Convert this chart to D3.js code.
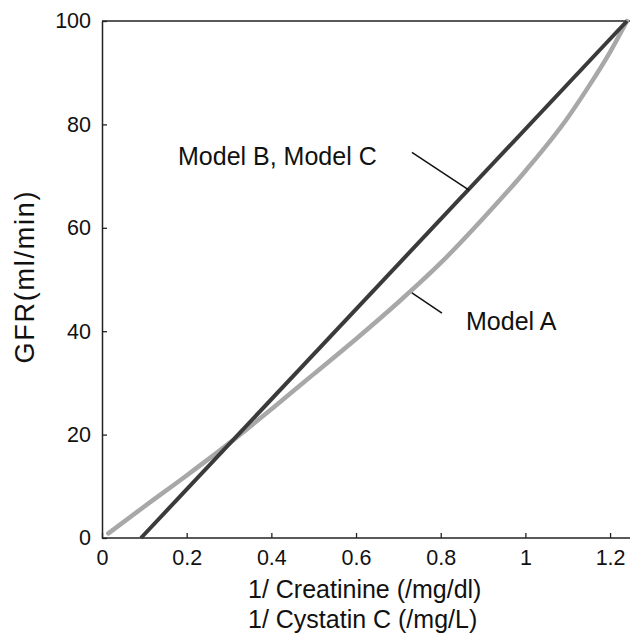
<!DOCTYPE html>
<html><head><meta charset="utf-8">
<script src="https://cdn.jsdelivr.net/npm/d3@7"></script>
<style>body{margin:0;background:#fff}svg{display:block}text{font-family:"Liberation Sans",Arial,sans-serif;fill:#111}</style>
</head><body>
<svg id="c" width="630" height="634"></svg>
<script>
const xTicks = [0, 0.2, 0.4, 0.6, 0.8, 1, 1.2];
const yTicks = [0, 20, 40, 60, 80, 100];
const modelBC_x = [0.092, 1.24];
const modelBC_y = [0, 100];
const modelA_x = [0.015, 0.1, 0.2, 0.3, 0.4, 0.5, 0.6, 0.7, 0.8, 0.9, 1.0, 1.1, 1.15, 1.2, 1.24];
const modelA_y = [0.9, 6.1, 12.1, 18.3, 24.9, 31.7, 38.5, 45.6, 53.2, 61.8, 71.0, 81.3, 87.4, 94.0, 100];
const labelBC = "Model B, Model C";
const labelA = "Model A";
const xLabel1 = "1/ Creatinine (/mg/dl)";
const xLabel2 = "1/ Cystatin C (/mg/L)";
const yLabel = "GFR(ml/min)";

const svg = d3.select("#c");
const L = 102, R = 627, T = 21, B = 538;
const x = d3.scaleLinear().domain([0, 1.24]).range([L, R]);
const y = d3.scaleLinear().domain([0, 100]).range([B, T]);
const FF = '"Liberation Sans",Arial,sans-serif';

// x axis
const gx = svg.append("g").attr("transform", `translate(0,${B})`)
  .call(d3.axisBottom(x).tickValues(xTicks).tickFormat(d3.format("")).tickSizeInner(-5).tickSizeOuter(0).tickPadding(12));
gx.select(".domain").attr("stroke", "#222").attr("stroke-width", 1.5).attr("d", `M${L},0H630`);
gx.selectAll(".tick line").attr("stroke", "#222").attr("stroke-width", 1.3);
gx.selectAll(".tick text").attr("font-size", 21.5).attr("dy", "0.72em").style("font-family", FF).attr("fill", "#111");

// y axis
const gy = svg.append("g").attr("transform", `translate(${L},0)`)
  .call(d3.axisLeft(y).tickValues(yTicks).tickFormat(d3.format("")).tickSizeInner(-5).tickSizeOuter(0).tickPadding(11));
gy.select(".domain").attr("stroke", "#222").attr("stroke-width", 1.5);
gy.selectAll(".tick line").attr("stroke", "#222").attr("stroke-width", 1.3);
gy.selectAll(".tick text").attr("font-size", 21.5).style("font-family", FF).attr("fill", "#111");

// top frame
svg.append("line").attr("x1", L).attr("x2", 630).attr("y1", y(100)).attr("y2", y(100)).attr("stroke", "#222").attr("stroke-width", 1.5);

const aData = modelA_x.map((v, i) => [v, modelA_y[i]]);
const bData = modelBC_x.map((v, i) => [v, modelBC_y[i]]);

svg.append("path").datum(aData)
  .attr("d", d3.line().x(d => x(d[0])).y(d => y(d[1])).curve(d3.curveMonotoneX))
  .attr("fill", "none").attr("stroke", "#a8a8a8").attr("stroke-width", 4.5).attr("stroke-linecap", "round");
svg.append("path").datum(bData)
  .attr("d", d3.line().x(d => x(d[0])).y(d => y(d[1])))
  .attr("fill", "none").attr("stroke", "#3a3a3a").attr("stroke-width", 4);

// leader lines
svg.append("line").attr("x1", x(0.732)).attr("y1", y(74.6)).attr("x2", x(0.867)).attr("y2", y(67.3)).attr("stroke", "#111").attr("stroke-width", 1.5);
svg.append("line").attr("x1", x(0.732)).attr("y1", y(47.4)).attr("x2", x(0.803)).attr("y2", y(43.5)).attr("stroke", "#111").attr("stroke-width", 1.5);

svg.append("text").attr("x", 178).attr("y", 165).attr("font-size", 25).text(labelBC);
svg.append("text").attr("x", 466).attr("y", 330).attr("font-size", 25).text(labelA);

svg.append("text").attr("x", 248).attr("y", 598).attr("font-size", 25).text(xLabel1);
svg.append("text").attr("x", 248).attr("y", 628).attr("font-size", 25).text(xLabel2);
svg.append("text").attr("transform", `translate(34,${(190 + 365) / 2}) rotate(-90)`).attr("text-anchor", "middle")
  .attr("font-size", 27).attr("textLength", 172).attr("lengthAdjust", "spacing").text(yLabel);
</script>
</body></html>
